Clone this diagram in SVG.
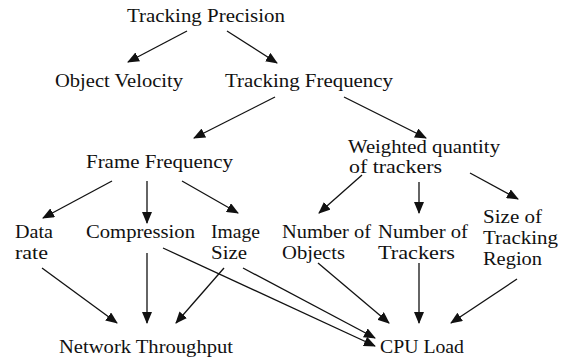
<svg xmlns="http://www.w3.org/2000/svg" width="574" height="358" viewBox="0 0 574 358">
<defs>
<style>
text{font-family:"Liberation Serif","DejaVu Serif",serif;font-size:18px;fill:#111}
.c line{stroke:#111;stroke-width:1.3;marker-end:url(#ah)}
</style>
<marker id="ah" markerUnits="userSpaceOnUse" markerWidth="12" markerHeight="10" refX="11" refY="5" orient="auto" viewBox="0 0 12 10">
<path d="M0,0 L12,5 L0,10 Z" fill="#111"/>
</marker>
</defs>
<rect width="574" height="358" fill="#fff"/>
<g class="c" id="connectors">
<line x1="187" y1="31" x2="128" y2="62"/>
<line x1="227" y1="31" x2="277" y2="63"/>
<line x1="275" y1="97" x2="194" y2="138"/>
<line x1="344" y1="97" x2="426" y2="138"/>
<line x1="112" y1="181" x2="43" y2="218"/>
<line x1="147" y1="181" x2="147" y2="223"/>
<line x1="182" y1="181" x2="238" y2="213"/>
<line x1="362" y1="175" x2="319" y2="213"/>
<line x1="419" y1="182" x2="419" y2="213"/>
<line x1="470" y1="173" x2="518" y2="199"/>
<line x1="42" y1="268" x2="117" y2="323"/>
<line x1="147" y1="253" x2="147" y2="323"/>
<line x1="224" y1="268" x2="176" y2="323"/>
<line x1="163" y1="248" x2="375" y2="346"/>
<line x1="243" y1="268" x2="375" y2="338"/>
<line x1="318" y1="263" x2="389" y2="323"/>
<line x1="419" y1="263" x2="419" y2="323"/>
<line x1="517" y1="279" x2="451" y2="323"/>
</g>
<g id="tracking-precision"><text x="127" y="22" textLength="158" lengthAdjust="spacingAndGlyphs">Tracking Precision</text></g>
<g id="object-velocity"><text x="55" y="87" textLength="128" lengthAdjust="spacingAndGlyphs">Object Velocity</text></g>
<g id="tracking-frequency"><text x="225" y="87" textLength="168" lengthAdjust="spacingAndGlyphs">Tracking Frequency</text></g>
<g id="frame-frequency"><text x="86" y="168" textLength="147" lengthAdjust="spacingAndGlyphs">Frame Frequency</text></g>
<g id="weighted-quantity"><text x="348" y="153" textLength="152" lengthAdjust="spacingAndGlyphs">Weighted quantity</text><text x="349" y="173" textLength="93" lengthAdjust="spacingAndGlyphs">of trackers</text></g>
<g id="data-rate"><text x="15" y="238" textLength="38" lengthAdjust="spacingAndGlyphs">Data</text><text x="15" y="259" textLength="33" lengthAdjust="spacingAndGlyphs">rate</text></g>
<g id="compression"><text x="86" y="238" textLength="109" lengthAdjust="spacingAndGlyphs">Compression</text></g>
<g id="image-size"><text x="211" y="238" textLength="49" lengthAdjust="spacingAndGlyphs">Image</text><text x="211" y="259" textLength="36" lengthAdjust="spacingAndGlyphs">Size</text></g>
<g id="number-of-objects"><text x="282" y="238" textLength="89" lengthAdjust="spacingAndGlyphs">Number of</text><text x="282" y="259" textLength="63" lengthAdjust="spacingAndGlyphs">Objects</text></g>
<g id="number-of-trackers"><text x="378" y="238" textLength="90" lengthAdjust="spacingAndGlyphs">Number of</text><text x="378" y="259" textLength="77" lengthAdjust="spacingAndGlyphs">Trackers</text></g>
<g id="size-of-tracking-region"><text x="483" y="223" textLength="59" lengthAdjust="spacingAndGlyphs">Size of</text><text x="483" y="244" textLength="75" lengthAdjust="spacingAndGlyphs">Tracking</text><text x="483" y="265" textLength="59" lengthAdjust="spacingAndGlyphs">Region</text></g>
<g id="network-throughput"><text x="59" y="353" textLength="174" lengthAdjust="spacingAndGlyphs">Network Throughput</text></g>
<g id="cpu-load"><text x="380" y="353" textLength="84" lengthAdjust="spacingAndGlyphs">CPU Load</text></g>
</svg>
